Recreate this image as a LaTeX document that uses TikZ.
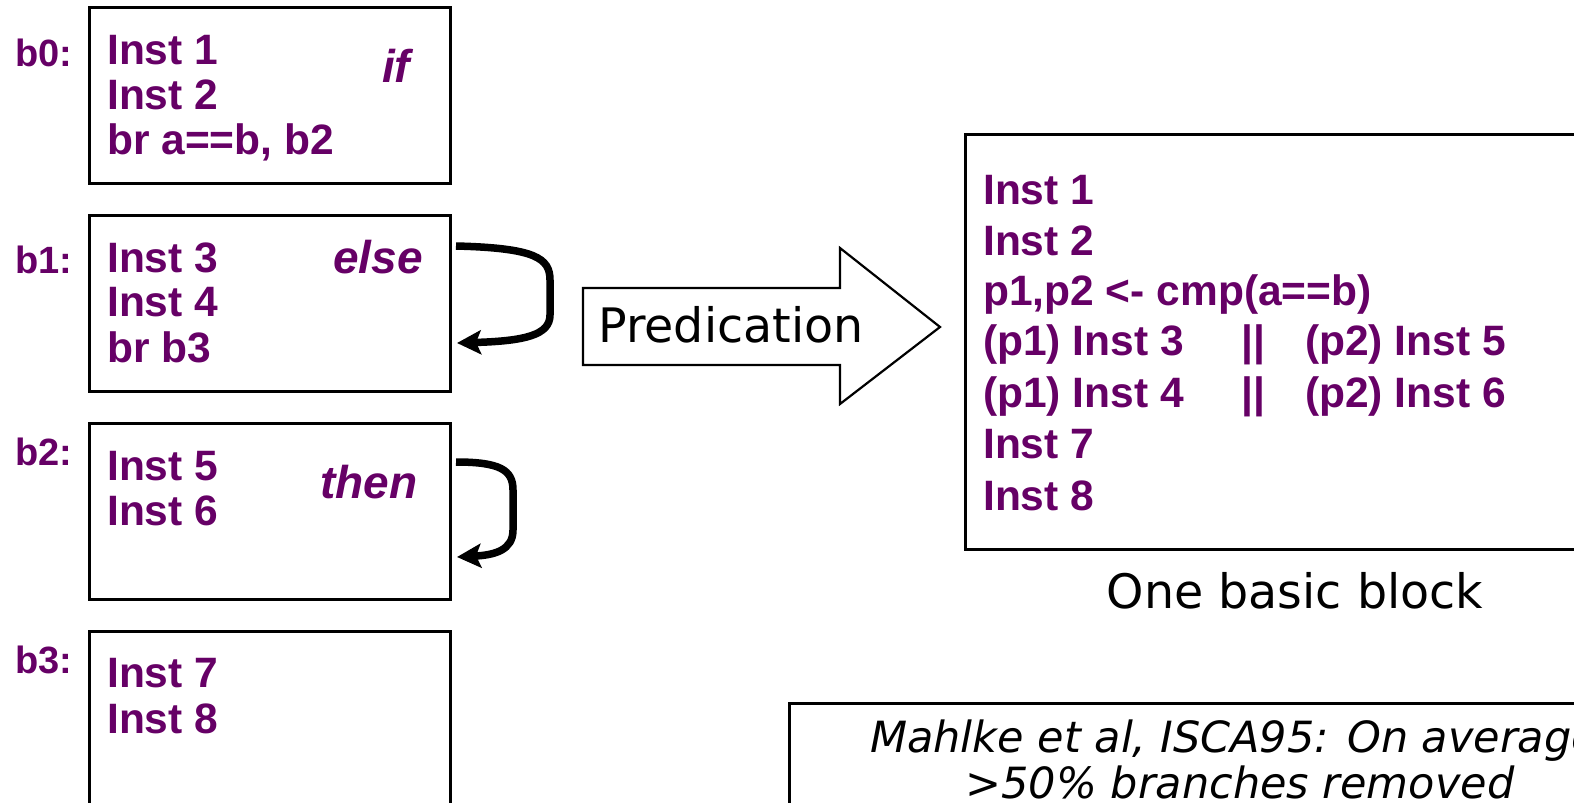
\documentclass[tikz,border=0pt]{standalone}
\usepackage{fontspec}
\setmainfont{Liberation Sans}
\newfontfamily\dvs{DejaVu Sans}
\usetikzlibrary{arrows.meta,calc}
\definecolor{instpurple}{RGB}{102,0,102}
\tikzset{
 blk/.style={draw=black, line width=2.8pt, anchor=north west, minimum width=361pt, minimum height=176pt, inner sep=0pt},
 inst/.style={anchor=base west, inner sep=0pt, text=instpurple, font=\fontsize{42.5}{50}\selectfont\bfseries},
 instc/.style={anchor=base, inner sep=0pt, text=instpurple, font=\fontsize{42.5}{50}\selectfont\bfseries},
 lbl/.style={anchor=base west, inner sep=0pt, text=instpurple, font=\fontsize{38}{46}\selectfont\bfseries},
 kw/.style={anchor=base west, inner sep=0pt, text=instpurple, font=\fontsize{46}{54}\selectfont\bfseries\itshape},
 jump/.style={line width=7.5pt, -{Stealth[length=24pt,width=24pt,inset=5pt]}},
 plain/.style={anchor=base, inner sep=0pt, text=black, font=\dvs\fontsize{47.5}{56}\selectfont},
 note/.style={anchor=base, inner sep=0pt, text=black, font=\dvs\fontsize{43}{50}\selectfont\itshape},
}
\begin{document}
\begin{tikzpicture}[x=1pt,y=-1pt]
\useasboundingbox (0,0) rectangle (1574,803);
\clip (0,0) rectangle (1574,803);
\fill[white] (0,0) rectangle (1574,803);

% left blocks
\node[blk] (b0) at (88,6) {};
\node[blk] (b1) at (88,214) {};
\node[blk] (b2) at (88,422) {};
\node[blk, minimum height=220pt] (b3) at (88,630) {};

\node[lbl] (l0) at (15,66) {b0:};
\node[lbl] (l1) at (15,273) {b1:};
\node[lbl] (l2) at (15,465) {b2:};
\node[lbl] (l3) at (15,673) {b3:};

\node[inst] (i1) at (107,64) {Inst 1};
\node[inst] (i2) at (107,109) {Inst 2};
\node[inst] (br0) at (107,154) {br a==b, b2};
\node[kw] (kif) at (382,82) {if};

\node[inst] (i3) at (107,272) {Inst 3};
\node[inst] (i4) at (107,316) {Inst 4};
\node[inst] (br1) at (107,362) {br b3};
\node[kw] (kelse) at (333,273) {else};

\node[inst] (i5) at (107,480) {Inst 5};
\node[inst] (i6) at (107,525) {Inst 6};
\node[kw] (kthen) at (320,498) {then};

\node[inst] (i7) at (107,687) {Inst 7};
\node[inst] (i8) at (107,733) {Inst 8};

% jump arrows
\coordinate (j1s) at (456,246);
\coordinate (j1e) at (457,343);
\draw[jump] (j1s) .. controls (535,248) and (550,258) .. (550,280) -- (550,315) .. controls (550,335) and (525,341) .. (j1e);
\coordinate (j2s) at (456,462);
\coordinate (j2e) at (457,557);
\draw[jump] (j2s) .. controls (500,462) and (513,470) .. (513,490) -- (513,530) .. controls (513,550) and (495,555) .. (j2e);

% predication block arrow
\draw[line width=2.2pt, fill=white] (583,288) -- (840,288) -- (840,248) -- (940,327) -- (840,404) -- (840,365) -- (583,365) -- cycle;
\node[plain] (pred) at (731,342) {Predication};

% basic block
\node[draw=black, line width=2.8pt, anchor=north west, minimum width=700pt, minimum height=415pt, inner sep=0pt] (bb) at (964,133) {};
\node[inst] (r1) at (983,204) {Inst 1};
\node[inst] (r2) at (983,255) {Inst 2};
\node[inst] (r3) at (983,305) {p1,p2 <- cmp(a==b)};
\node[inst] (r4) at (983,355) {(p1) Inst 3};
\node[instc] (r4b) at (1253,355) {||};
\node[inst] (r4c) at (1305,355) {(p2) Inst 5};
\node[inst] (r5) at (983,407) {(p1) Inst 4};
\node[instc] (r5b) at (1253,407) {||};
\node[inst] (r5c) at (1305,407) {(p2) Inst 6};
\node[inst] (r6) at (983,458) {Inst 7};
\node[inst] (r7) at (983,510) {Inst 8};
\node[plain] (obb) at (1295,608) {One basic block};

% note box
\node[draw=black, line width=2.8pt, anchor=north west, minimum width=904pt, minimum height=200pt, inner sep=0pt] (nb) at (788,702) {};
\node[note] (n1) at (1234,752) {Mahlke et al, ISCA95: On average};
\node[note] (n2) at (1240,798) {>50\% branches removed};
\end{tikzpicture}
\end{document}
